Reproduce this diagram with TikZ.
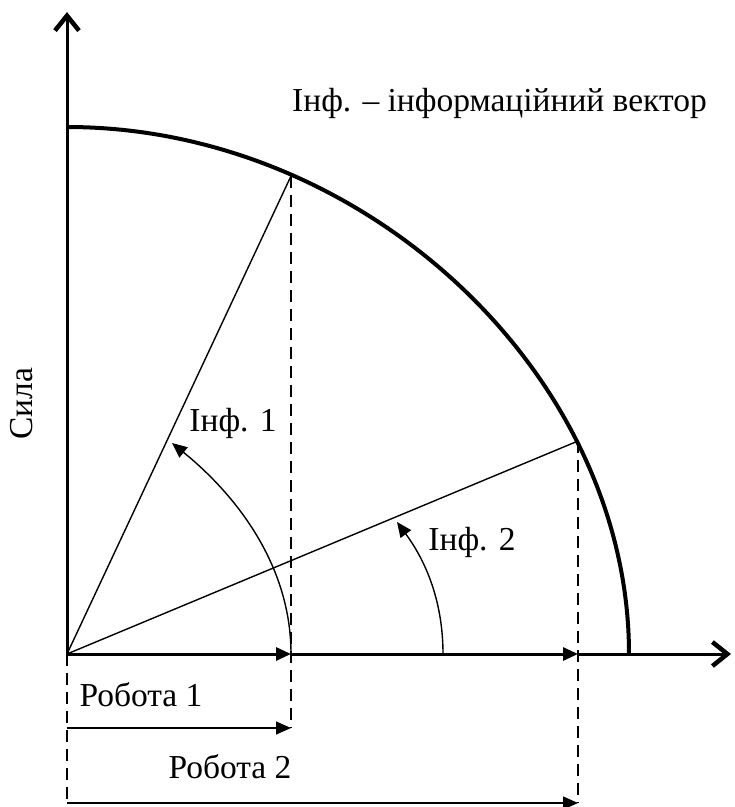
\documentclass[tikz,border=0pt]{standalone}
\usepackage{fontspec}
\setmainfont{Liberation Serif}
\usetikzlibrary{arrows.meta}
\begin{document}
\begin{tikzpicture}[x=1pt,y=-1pt,
  axisline/.style={line width=3pt},
  thinline/.style={line width=1.4pt},
  dashline/.style={line width=1.4pt,dash pattern=on 12pt off 7pt},
  openhead/.style={-{Straight Barb[length=15pt,width=24pt,line width=4.5pt]}},
  filledhead/.style={-{Triangle[length=15pt,width=13pt]}},
  lbl/.style={font=\fontsize{33.5}{35}\selectfont,inner sep=0pt}]
\useasboundingbox (0,0) rectangle (735,807);
% key points
\coordinate (O) at (67,654);
\coordinate (Ytop) at (67,12);
\coordinate (Xend) at (731,654);
\coordinate (Atop) at (67,127);
\coordinate (Aend) at (629,654);
\coordinate (P1) at (291,176);
\coordinate (P2) at (578,441);
\coordinate (X1) at (291,654);
\coordinate (X2) at (578,654);
\coordinate (D0) at (67,803);
\coordinate (D1) at (291,728);
\coordinate (D2) at (578,803);
\coordinate (R1s) at (67,728);
\coordinate (R2s) at (67,803);
\coordinate (T1) at (172,443);
\coordinate (S2) at (443,654);
\coordinate (T2) at (397,522);
% axes
\draw[axisline,openhead] (O) -- (Ytop);
\draw[axisline,filledhead] (O) -- (X1);
\draw[axisline,filledhead] (X1) -- (X2);
\draw[axisline,openhead] (X2) -- (Xend);
% big arc
\draw[line width=4pt] (Atop) .. controls (365,127) and (629,375) .. (Aend);
% vectors
\draw[thinline] (O) -- (P1);
\draw[thinline] (O) -- (P2);
% dashed projections
\draw[dashline] (P1) -- (D1);
\draw[dashline] (P2) -- (D2);
\draw[dashline] (O) -- (D0);
% work arrows
\draw[thinline,filledhead] (R1s) -- (D1);
\draw[thinline,filledhead] (R2s) -- (D2);
% angle arcs
\draw[thinline,filledhead] (X1) .. controls (291,560) and (230,490) .. (T1);
\draw[thinline,filledhead] (S2) .. controls (443,600) and (425,560) .. (T2);
% labels
\node[lbl,anchor=west] (title) at (292,103) {Інф. – інформаційний вектор};
\node[lbl] (inf1) at (233,423) {Інф. 1};
\node[lbl] (inf2) at (472,542) {Інф. 2};
\node[lbl] (rob1) at (141,695) {Робота 1};
\node[lbl] (rob2) at (230,767) {Робота 2};
\node[lbl,rotate=90] (sila) at (22,404) {Сила};
\end{tikzpicture}
\end{document}
